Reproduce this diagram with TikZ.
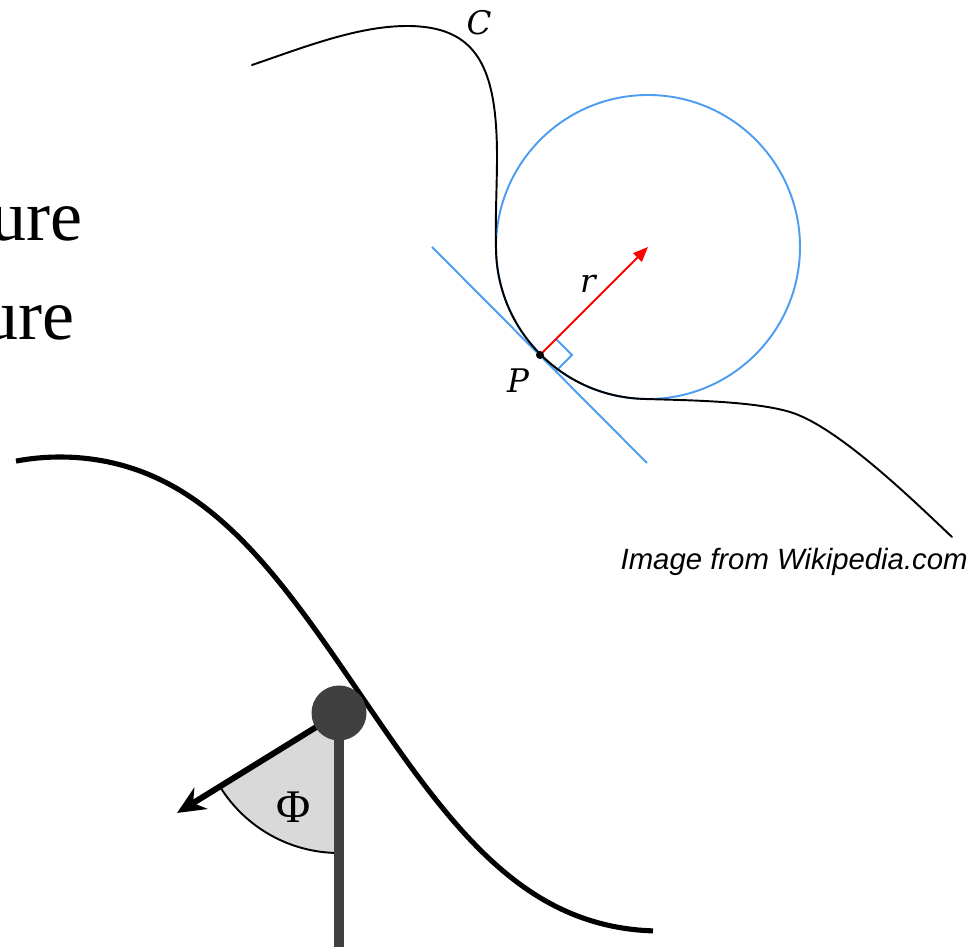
\documentclass[tikz,border=0pt]{standalone}
\usepackage{fontspec}
\setmainfont{Liberation Serif}
\setsansfont{Liberation Sans}
\newfontfamily\curvlabelfont{DejaVu Serif}
\usetikzlibrary{arrows.meta,calc}
\definecolor{curvInk}{HTML}{000000}
\definecolor{curvBlue}{HTML}{4C9DF2}
\definecolor{curvRed}{HTML}{FF0000}
\definecolor{curvDark}{HTML}{404040}
\definecolor{curvShade}{HTML}{D9D9D9}
\tikzset{
  curv thin/.style={draw=curvInk, line width=1.1pt, line cap=round},
  curv osc/.style={draw=curvBlue, line width=1.1pt},
  curv radius/.style={-{Triangle[length=3mm,width=2.4mm]},
    draw=curvRed, line width=1.1pt},
  curv label/.style={font=\curvlabelfont\itshape\fontsize{18.5}{22}\selectfont,
    inner sep=0pt, anchor=base},
  curv title/.style={font=\fontsize{41}{49}\selectfont, inner sep=0pt,
    anchor=base east},
  curv credit/.style={font=\sffamily\itshape\fontsize{16.7}{20}\selectfont,
    inner sep=0pt, anchor=base east},
  curv track/.style={draw=curvInk, line width=2.9pt},
  curv rod/.style={draw=curvDark, line width=5.7pt},
  curv force/.style={-{Stealth[length=5.6mm,width=5mm]},
    draw=curvInk, line width=3.4pt, line cap=butt},
  curv sector/.style={fill=curvShade},
  curv arc/.style={draw=curvInk, line width=1.1pt},
  declare function={curvc(\t)=cos(0.3*(\t-60));
    curvtrack(\t)=253+237*(curvc(\t)+0.18*curvc(\t)*(1-curvc(\t)*curvc(\t)));}
}

\begin{document}
\begin{tikzpicture}[x=0.02cm,y=0.02cm]
  \clip (0,0) rectangle (971,947);
  \node[curv title] (ure1) at (83,706) {ure};
  \node[curv title] (ure2) at (75,607) {ure};
  \begin{scope}
    \coordinate (O) at (648,700);
    \coordinate (P) at (540,592);
    \coordinate (T1) at (432,700);
    \coordinate (T2) at (647,484);
    \draw[curv osc] (O) circle[radius=152];
    \draw[curv osc] (T1) -- (T2);
    \draw[curv osc] ([shift={(16,16)}]P) -- ++(16,-16) -- ++(-16,-16);
    \draw[curv thin] (252,882) .. controls (302,899) and (357,921) .. (407,921)
      .. controls (477,921) and (497,880) .. (497,790)
      .. controls (497,760) and (495,725) .. ($(O)+(182:152)$)
      arc[start angle=182, end angle=268, radius=152]
      .. controls (680,546.8) and (751.7,546.5) .. (790,535)
      .. controls (837.9,520.6) and (915.6,444.3) .. (952,410);
    \draw[curv radius] (P) -- (O);
    \fill[curvInk] (P) circle[radius=4];
    \node[curv label] (lblC) at (479,912) {C};
    \node[curv label] (lblP) at (518,554) {P};
    \node[curv label] (lblr) at (588,654) {r};
    \node[curv credit] (credit) at (968,377) {Image from Wikipedia.com};
  \end{scope}
  \begin{scope}
    \coordinate (B) at (339,234);
    \coordinate (A) at (177,134);
    \coordinate (R) at (339,-5);
    \fill[curv sector] (B) -- ++(211.7:140) arc[start angle=211.7, end angle=270, radius=140] -- cycle;
    \draw[curv arc] ($(B)+(211.7:140)$) arc[start angle=211.7, end angle=270, radius=140];
    \draw[curv track] plot[domain=16:653, samples=120, smooth] (\x,{curvtrack(\x)});
    \draw[curv rod] (B) -- (R);
    \draw[curv force] (B) -- (A);
    \fill[curvDark] (B) circle[radius=27.5];
    \node[font=\fontsize{26.6}{32}\selectfont, inner sep=0pt, anchor=base] (phi) at (294,124) {Φ};
  \end{scope}
\end{tikzpicture}
\end{document}
